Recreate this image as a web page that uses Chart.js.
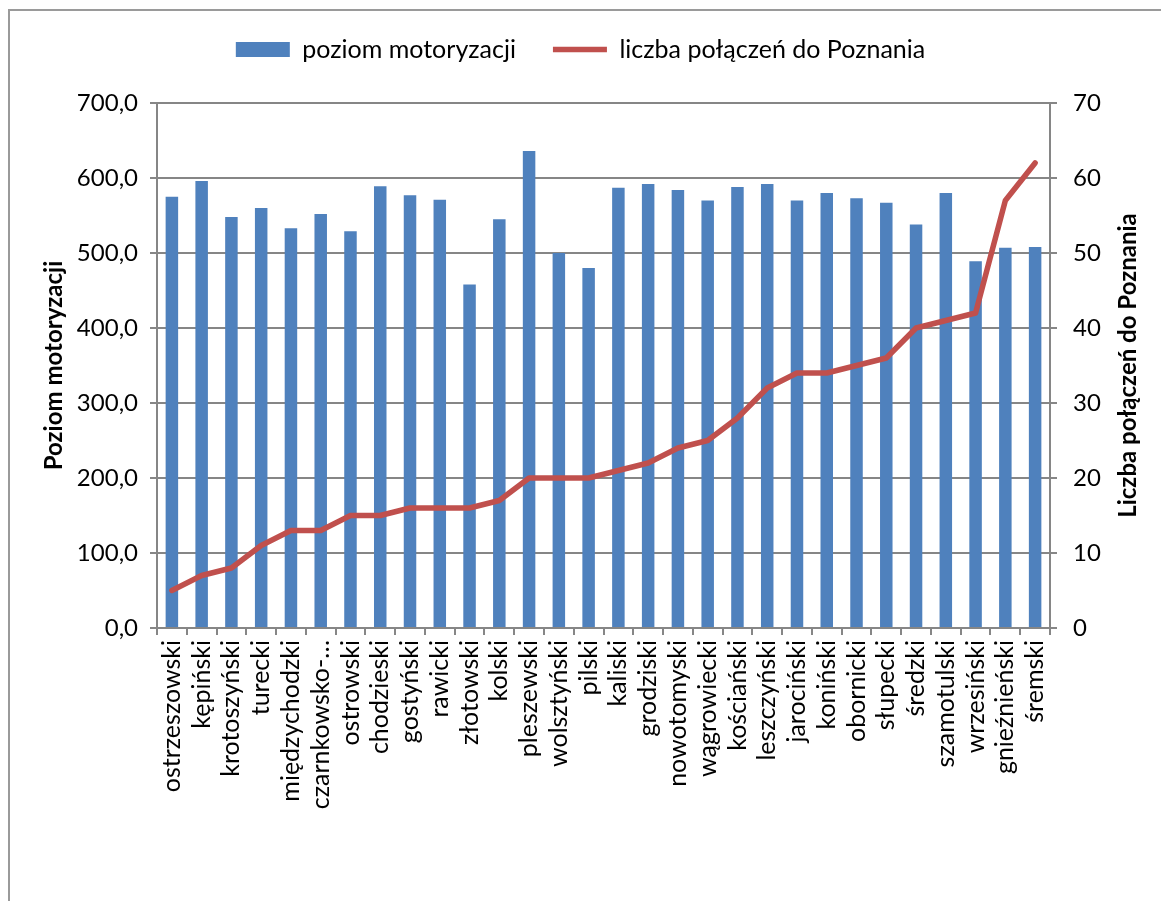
<!DOCTYPE html>
<html lang="pl">
<head>
<meta charset="utf-8">
<title>Poziom motoryzacji a liczba połączeń do Poznania</title>
<script src="https://cdn.jsdelivr.net/npm/chart.js@4/dist/chart.umd.min.js"></script>
<style>
  html, body { margin: 0; padding: 0; background: #fff; overflow: hidden; }
  .frame {
    position: absolute; left: 8px; top: 9px;
    width: 1300px; height: 1100px;
    border: 2px solid #9a9a9a;
  }
  .chart-box { position: absolute; left: 0; top: 0; width: 1161px; height: 901px; }
</style>
</head>
<body>
<div class="frame"></div>
<div class="chart-box"><canvas id="motoChart" width="1161" height="901"></canvas></div>
<script>
// Powiaty ordered by number of connections to Poznań
const categories = [
  'ostrzeszowski', 'kępiński', 'krotoszyński', 'turecki', 'międzychodzki',
  'czarnkowsko-…', 'ostrowski', 'chodzieski', 'gostyński', 'rawicki',
  'złotowski', 'kolski', 'pleszewski', 'wolsztyński', 'pilski',
  'kaliski', 'grodziski', 'nowotomyski', 'wągrowiecki', 'kościański',
  'leszczyński', 'jarociński', 'koniński', 'obornicki', 'słupecki',
  'średzki', 'szamotulski', 'wrzesiński', 'gnieźnieński', 'śremski'
];

// poziom motoryzacji (left axis)
const motorization = [
  575, 596, 548, 560, 533, 552, 529, 589, 577, 571,
  458, 545, 636, 500, 480, 587, 592, 584, 570, 588,
  592, 570, 580, 573, 567, 538, 580, 489, 507, 508
];

// liczba połączeń do Poznania (right axis)
const connections = [
  5, 7, 8, 11, 13, 13, 15, 15, 16, 16,
  16, 17, 20, 20, 20, 21, 22, 24, 25, 28,
  32, 34, 34, 35, 36, 40, 41, 42, 57, 62
];

const leftTicks = [0, 100, 200, 300, 400, 500, 600, 700];
const rightTicks = [0, 10, 20, 30, 40, 50, 60, 70];

const BLUE = '#4F81BD';
const RED = '#C0504D';
const GRID = '#868686';
const FONT = 'Lato, "Open Sans", sans-serif';

Chart.defaults.font.family = FONT;
Chart.defaults.color = '#000';

// Extra gap under the legend
const legendGap = {
  id: 'legendGap',
  beforeInit(chart) {
    const fit = chart.legend.fit;
    chart.legend.fit = function() {
      fit.bind(chart.legend)();
      this.height += 31;
    };
  }
};

// Right axis title reads bottom-to-top like the left one
const rightTitle = {
  id: 'rightTitle',
  afterDraw(chart) {
    const {ctx, chartArea} = chart;
    const scale = chart.scales.y1;
    ctx.save();
    ctx.translate(scale.right - 33, (chartArea.top + chartArea.bottom) / 2);
    ctx.rotate(-Math.PI / 2);
    ctx.font = 'bold 24px ' + FONT;
    ctx.fillStyle = '#000';
    ctx.textAlign = 'center';
    ctx.textBaseline = 'middle';
    ctx.fillText('Liczba połączeń do Poznania', 0, 0);
    ctx.restore();
  }
};

const ctx = document.getElementById('motoChart').getContext('2d');
new Chart(ctx, {
  data: {
    labels: categories,
    datasets: [{
      type: 'bar',
      label: 'poziom motoryzacji',
      data: motorization,
      backgroundColor: BLUE,
      borderWidth: 0,
      barPercentage: 0.42,
      categoryPercentage: 1,
      yAxisID: 'y',
      order: 1
    }, {
      type: 'line',
      label: 'liczba połączeń do Poznania',
      data: connections,
      borderColor: RED,
      backgroundColor: RED,
      borderWidth: 5.5,
      borderJoinStyle: 'round',
      borderCapStyle: 'round',
      pointRadius: 0,
      tension: 0,
      yAxisID: 'y1',
      order: 0
    }]
  },
  options: {
    responsive: false,
    animation: false,
    layout: { padding: 0 },
    plugins: {
      tooltip: { enabled: false },
      legend: {
        position: 'top',
        labels: {
          font: { size: 25 },
          usePointStyle: true,
          pointStyleWidth: 54,
          boxHeight: 15,
          padding: 37,
          sort: (a, b) => a.datasetIndex - b.datasetIndex,
          generateLabels(chart) {
            const items = Chart.defaults.plugins.legend.labels.generateLabels(chart);
            items.forEach(item => {
              item.pointStyle = chart.data.datasets[item.datasetIndex].type === 'line' ? 'line' : 'rect';
            });
            return items;
          }
        }
      }
    },
    scales: {
      x: {
        offset: true,
        grid: {
          offset: true,
          drawOnChartArea: false,
          color: GRID,
          lineWidth: 2,
          tickLength: 7
        },
        border: { color: GRID, width: 2 },
        ticks: {
          font: { size: 25 },
          minRotation: 90,
          maxRotation: 90,
          autoSkip: false,
          padding: 5
        },
        afterFit(scale) { scale.height = 273; }
      },
      y: {
        position: 'left',
        min: 0,
        max: 700,
        afterBuildTicks(scale) { scale.ticks = leftTicks.map(v => ({ value: v })); },
        grid: { color: GRID, lineWidth: 2, tickLength: 7 },
        border: { color: GRID, width: 2 },
        ticks: {
          font: { size: 24 },
          padding: 12,
          callback: v => v.toFixed(1).replace('.', ',')
        },
        title: {
          display: true,
          text: 'Poziom motoryzacji',
          font: { size: 24, weight: 'bold' },
          padding: { top: 40 }
        },
        afterFit(scale) { scale.width = 157; }
      },
      y1: {
        position: 'right',
        min: 0,
        max: 70,
        afterBuildTicks(scale) { scale.ticks = rightTicks.map(v => ({ value: v })); },
        grid: { drawOnChartArea: false, color: GRID, lineWidth: 2, tickLength: 7 },
        border: { color: GRID, width: 2 },
        ticks: { font: { size: 24 }, padding: 16 },
        afterFit(scale) { scale.width = 111; }
      }
    }
  },
  plugins: [legendGap, rightTitle]
});
</script>
</body>
</html>
